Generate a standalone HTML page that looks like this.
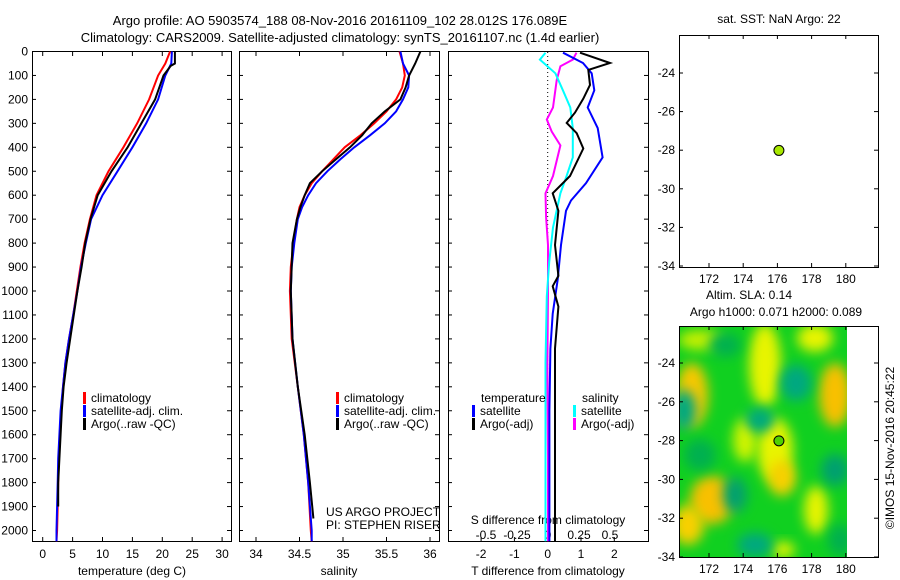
<!DOCTYPE html>
<html><head><meta charset="utf-8"><style>
body{margin:0;background:#fff}
svg{display:block;font-family:"Liberation Sans",sans-serif;font-size:12px}
</style></head><body>
<svg id="s" width="900" height="580">
<defs><filter id="bl" x="-50%" y="-50%" width="200%" height="200%"><feGaussianBlur stdDeviation="6"/></filter>
<clipPath id="mc"><rect x="679" y="326" width="168" height="231"/></clipPath></defs>
<text x="340" y="25" text-anchor="middle" font-size="13">Argo profile: AO 5903574_188 08-Nov-2016 20161109_102 28.012S 176.089E</text>
<text x="340" y="42" text-anchor="middle" font-size="13">Climatology: CARS2009. Satellite-adjusted climatology: synTS_20161107.nc (1.4d earlier)</text>
<g id="g"></g>
</svg>
<script>
const depthsT=[0,50,100,200,300,400,500,600,700,800,900,1000,1100,1200,1300,1400,1500,1600,1700,1800,1900,2000,2045];
const tempClim=[21.3,20.5,19.3,17.8,15.8,13.5,11,9,7.9,7.0,6.3,5.7,5.1,4.4,3.8,3.4,3.1,2.9,2.7,2.6,2.5,2.4,2.3];
const tempSat=[21.6,21.5,20.5,19.3,17.3,15,12.5,10,8.1,7.2,6.4,5.8,5.1,4.4,3.8,3.4,3.0,2.8,2.6,2.5,2.4,2.3,2.3];
const depthsA=[0,50,60,100,200,300,400,500,600,700,800,900,1000,1100,1200,1300,1400,1500,1600,1700,1800,1900];
const tempArgo=[22.1,22.1,21.4,20.2,18.8,16.5,14.2,11.5,9.2,8.0,7.1,6.5,5.8,5.2,4.6,4.0,3.5,3.2,3.0,2.8,2.6,2.6];
const depthsS=[0,50,100,150,200,250,300,350,400,450,500,550,600,650,700,800,900,1000,1200,1400,1600,1800,2000,2045];
const salClim=[35.65,35.69,35.71,35.68,35.61,35.5,35.36,35.2,35.02,34.89,34.76,34.64,34.56,34.5,34.47,34.43,34.4,34.39,34.41,34.48,34.55,34.6,34.63,34.64];
const salSat=[35.66,35.69,35.76,35.75,35.69,35.61,35.48,35.31,35.13,34.97,34.82,34.69,34.6,34.53,34.48,34.44,34.41,34.4,34.42,34.48,34.55,34.6,34.64,34.64];
const depthsSA=[0,50,100,150,200,250,300,350,400,450,500,550,600,650,700,800,1000,1200,1400,1600,1800,1950];
const salArgo=[35.89,35.83,35.76,35.72,35.66,35.48,35.33,35.22,35.08,34.92,34.76,34.62,34.56,34.51,34.47,34.42,34.4,34.42,34.48,34.56,34.62,34.66];
const depthsD=[5,48,91,162,234,320,442,550,622,665,808,952,1095,1240,1500,2045];
const dTsat=[0.46,1.06,1.32,1.4,1.2,1.5,1.65,1.15,0.7,0.55,0.4,0.3,0.15,0.08,0.05,0.05];
const depthsDA=[5,48,77,140,197,255,298,341,405,520,592,665,808,937,980,1065,1240,1500,2045];
const dTargo=[0.97,1.87,1.22,1.27,1.07,0.82,0.57,0.87,1.07,0.67,0.15,0.32,0.22,0.32,0.15,0.32,0.22,0.22,0.22];
const depthsDS=[5,34,91,162,234,320,442,520,592,735,880,1022,1300,1700,2045];
const dSsat=[-0.02,-0.065,0.06,0.12,0.18,0.2,0.2,0.15,0.1,0.04,0.01,-0.01,-0.02,-0.02,-0.02];
const depthsDM=[5,34,62,120,234,284,334,392,520,592,692,808,1000,1300,1700,2045];
const dSargo=[0.23,0.2,0.1,0.07,0.04,-0.01,0.03,0.1,0.04,-0.02,-0.015,0,0,-0.005,0,0];
const depthTicks=[0,100,200,300,400,500,600,700,800,900,1000,1100,1200,1300,1400,1500,1600,1700,1800,1900,2000];
const tTicks=[0,5,10,15,20,25,30];
const sTicks=[34,34.5,35,35.5,36];
const dTTicks=[-2,-1,0,1,2];
const dSTicks=[-0.5,-0.25,0,0.25,0.5];
const latTicks=[-24,-26,-28,-30,-32,-34];
const lonTicks=[172,174,176,178,180];
const argoLon=176.089, argoLat=-28.012;

const NS='http://www.w3.org/2000/svg';
const G=document.getElementById('g');
function mk(t,a,p){const e=document.createElementNS(NS,t);for(const k in a)e.setAttribute(k,a[k]);(p||G).appendChild(e);return e;}
const y=d=>51.5+d*0.2395;
const xT=v=>42.7+v*5.98, xS=v=>256+(v-34)*87, xdT=v=>547.7+v*33.3, xdS=v=>548+v*124;
function line(ds,vs,fx,col,w,name){
  const p=mk('polyline',{points:ds.map((d,i)=>fx(vs[i]).toFixed(1)+','+y(d).toFixed(1)).join(' '),fill:'none',stroke:col,'stroke-width':w});
  
  
}
function txt(x,yy,s,anchor,name,extra){const t=mk('text',Object.assign({x:x,y:yy,'text-anchor':anchor||'start'},extra||{}));t.textContent=s;
  
  return t;}
function box(x0,y0,x1,y1,name){const r=mk('rect',{x:x0,y:y0,width:x1-x0,height:y1-y0,fill:'none',stroke:'#000','stroke-width':1});
  
  }
const BOT=541;
const panels=[[32,231,'temperature-panel'],[239,439,'salinity-panel'],[448,648,'difference-panel']];
panels.forEach(p=>{box(p[0]+.5,51.5,p[1]+.5,BOT+.5,p[2]);
  depthTicks.forEach(d=>{mk('line',{x1:p[0],x2:p[0]+4,y1:y(d),y2:y(d),stroke:'#000'});mk('line',{x1:p[1]-4,x2:p[1],y1:y(d),y2:y(d),stroke:'#000'});});});
depthTicks.forEach(d=>txt(28,y(d)+4,String(d),'end','depth-tick-label'));
tTicks.forEach(v=>{mk('line',{x1:xT(v),x2:xT(v),y1:BOT,y2:BOT-4,stroke:'#000'});mk('line',{x1:xT(v),x2:xT(v),y1:52,y2:56,stroke:'#000'});txt(xT(v),558,String(v),'middle','temperature-tick-label');});
sTicks.forEach(v=>{mk('line',{x1:xS(v),x2:xS(v),y1:BOT,y2:BOT-4,stroke:'#000'});mk('line',{x1:xS(v),x2:xS(v),y1:52,y2:56,stroke:'#000'});txt(xS(v),558,String(v),'middle','salinity-tick-label');});
dTTicks.forEach(v=>{mk('line',{x1:xdT(v),x2:xdT(v),y1:BOT,y2:BOT-4,stroke:'#000'});txt(xdT(v),558,String(v),'middle','t-diff-tick-label');});
dSTicks.forEach(v=>txt(xdS(v),539,String(v),'middle','s-diff-tick-label'));
txt(132,575,'temperature (deg C)','middle','temperature-axis-title');
txt(339,575,'salinity','middle','salinity-axis-title');
txt(548,575,'T difference from climatology','middle','t-diff-axis-title');
txt(548,524,'S difference from climatology','middle','s-diff-axis-title');
mk('line',{x1:xdT(0),x2:xdT(0),y1:52,y2:BOT,stroke:'#000','stroke-dasharray':'1,3'});
line(depthsT,tempClim,xT,'#f00',2,'temp-climatology-line');
line(depthsT,tempSat,xT,'#00f',2,'temp-satellite-line');
line(depthsA,tempArgo,xT,'#000',2,'temp-argo-line');
line(depthsS,salClim,xS,'#f00',2,'sal-climatology-line');
line(depthsS,salSat,xS,'#00f',2,'sal-satellite-line');
line(depthsSA,salArgo,xS,'#000',2,'sal-argo-line');
line(depthsDM,dSargo,xdS,'#f0f',2,'s-diff-argo-line');
line(depthsDS,dSsat,xdS,'#0ff',2,'s-diff-satellite-line');
line(depthsD,dTsat,xdT,'#00f',2,'t-diff-satellite-line');
line(depthsDA,dTargo,xdT,'#000',2,'t-diff-argo-line');
function leg(x,yy,col,s,name){mk('rect',{x:x,y:yy-10,width:3,height:12,fill:col});txt(x+8,yy,s,'start',name);}
leg(83,402,'#f00','climatology','legend-climatology');leg(83,415,'#00f','satellite-adj. clim.','legend-satellite');leg(83,428,'#000','Argo(..raw -QC)','legend-argo');
leg(336,402,'#f00','climatology','legend-sal-climatology');leg(336,415,'#00f','satellite-adj. clim.','legend-sal-satellite');leg(336,428,'#000','Argo(..raw -QC)','legend-sal-argo');
txt(481,402,'temperature','start','legend-temperature-header');txt(582,402,'salinity','start','legend-salinity-header');
leg(472,415,'#00f','satellite','legend-t-satellite');leg(472,428,'#000','Argo(-adj)','legend-t-argo');
leg(573,415,'#0ff','satellite','legend-s-satellite');leg(573,428,'#f0f','Argo(-adj)','legend-s-argo');
txt(326,516,'US ARGO PROJECT','start','project-label');txt(326,529,'PI: STEPHEN RISER','start','pi-label');
const lx=v=>709+(v-172)*17.1;
function map(yTop,yBot,yOf,name){
  box(679.5,yTop+.5,878.5,yBot+.5,name);
  latTicks.forEach(v=>{const yy=yOf(v);mk('line',{x1:679,x2:683,y1:yy,y2:yy,stroke:'#000'});mk('line',{x1:874,x2:878,y1:yy,y2:yy,stroke:'#000'});txt(675,yy+4,String(v),'end','lat-tick-label');});
  lonTicks.forEach(v=>{mk('line',{x1:lx(v),x2:lx(v),y1:yBot,y2:yBot-4,stroke:'#000'});mk('line',{x1:lx(v),x2:lx(v),y1:yTop,y2:yTop+4,stroke:'#000'});txt(lx(v),yBot+16,String(v),'middle','lon-tick-label');});
}
const y1m=v=>73+(-24-v)*19.3, y2m=v=>363+(-24-v)*19.4;
const fld=mk('g',{'clip-path':'url(#mc)'});
mk('rect',{x:679,y:326,width:168,height:231,fill:'#10d020'},fld);
const blobs=[[692,395,16,32,'#f8c800'],[765,365,16,42,'#e8f400'],[835,395,16,32,'#f8c000'],[775,450,18,32,'#e8f400'],[782,478,14,18,'#f8d000'],[712,500,22,24,'#f8c000'],[816,510,12,24,'#e8f400'],[688,525,16,20,'#f8d000'],[783,550,12,8,'#e8f400'],[815,338,18,14,'#e8f400'],[745,440,12,22,'#d0f400'],[700,340,22,10,'#c8f000'],
 [684,410,12,20,'#00a880'],[735,495,12,18,'#00a070'],[796,383,16,18,'#00a880'],[760,420,14,12,'#00a880'],[755,545,18,12,'#00a880'],[835,470,14,16,'#00a070'],[725,345,16,12,'#00b050'],[700,455,16,16,'#00b050'],[840,540,12,16,'#00b050']];
blobs.forEach(b=>mk('ellipse',{cx:b[0],cy:b[1],rx:b[2],ry:b[3],fill:b[4],filter:'url(#bl)'},fld));
map(35,267,y1m,'sst-map');map(326,557,y2m,'sla-map');
txt(779,23,'sat. SST: NaN Argo: 22','middle','sst-map-title');
txt(749,299,'Altim. SLA: 0.14','middle','sla-map-title');
txt(776,316,'Argo h1000: 0.071 h2000: 0.089','middle','sla-map-subtitle');
const c1=mk('circle',{cx:lx(argoLon),cy:y1m(argoLat),r:5,fill:'#a8e800',stroke:'#000'});

const c2=mk('circle',{cx:lx(argoLon),cy:y2m(argoLat),r:5,fill:'#50d000',stroke:'#000'});

txt(0,0,'©IMOS 15-Nov-2016 20:45:22','middle','imos-credit',{transform:'translate(894,448) rotate(-90)'});
</script>
</body></html>
